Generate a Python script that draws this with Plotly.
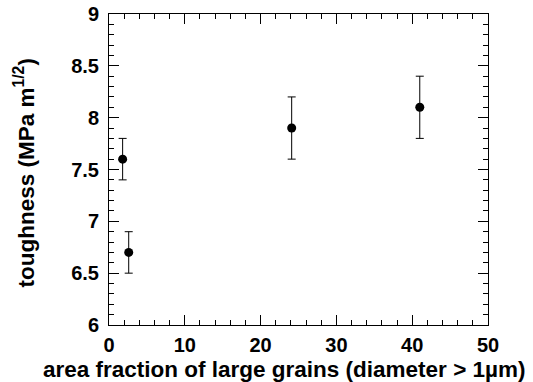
import plotly.graph_objects as go

area_fraction = [1.8, 2.6, 24.1, 41.0]
toughness = [7.6, 6.7, 7.9, 8.1]
error = [0.2, 0.2, 0.3, 0.3]

x_ticks = [0, 10, 20, 30, 40, 50]
y_ticks = [6, 6.5, 7, 7.5, 8, 8.5, 9]
y_tick_text = ["6", "6.5", "7", "7.5", "8", "8.5", "9"]

FONT = "Liberation Sans, Arial, sans-serif"

fig = go.Figure()
fig.add_trace(go.Scatter(
    x=area_fraction, y=toughness, mode="markers",
    marker=dict(color="black", size=9),
    error_y=dict(type="data", array=error, visible=True, color="black",
                 thickness=1, width=4),
    showlegend=False,
))

axis_common = dict(
    showline=True, linecolor="black", linewidth=1, mirror="ticks",
    ticks="inside", ticklen=10, tickcolor="black", tickwidth=1,
    showgrid=False, zeroline=False, automargin=False,
    tickfont=dict(family=FONT, size=20, color="black", weight="bold"),
)

fig.update_xaxes(range=[0, 50], tickvals=x_ticks, ticklabelstandoff=2,
                 minor=dict(dtick=2, ticks="inside", ticklen=5, tickcolor="black"),
                 **axis_common)
fig.update_yaxes(range=[6, 9], tickvals=y_ticks, ticktext=y_tick_text,
                 ticklabelstandoff=5,
                 minor=dict(dtick=0.1, ticks="inside", ticklen=5, tickcolor="black"),
                 **axis_common)

fig.add_annotation(
    text="area fraction of large grains (diameter > 1µm)",
    xref="paper", yref="paper", x=0.463, y=0, yshift=-30,
    xanchor="center", yanchor="top", showarrow=False,
    font=dict(family=FONT, size=22.5, color="black", weight="bold"),
)
fig.add_annotation(
    text="toughness (MPa m<sup>1/2</sup>)",
    xref="paper", yref="paper", x=0, xshift=-85, y=0.487,
    xanchor="center", yanchor="middle", showarrow=False, textangle=-90,
    font=dict(family=FONT, size=22.5, color="black", weight="bold"),
)

fig.update_layout(
    width=533, height=382,
    margin=dict(l=109, r=45, t=14, b=57, autoexpand=False),
    plot_bgcolor="white", paper_bgcolor="white",
)

fig.write_html("out.html")
